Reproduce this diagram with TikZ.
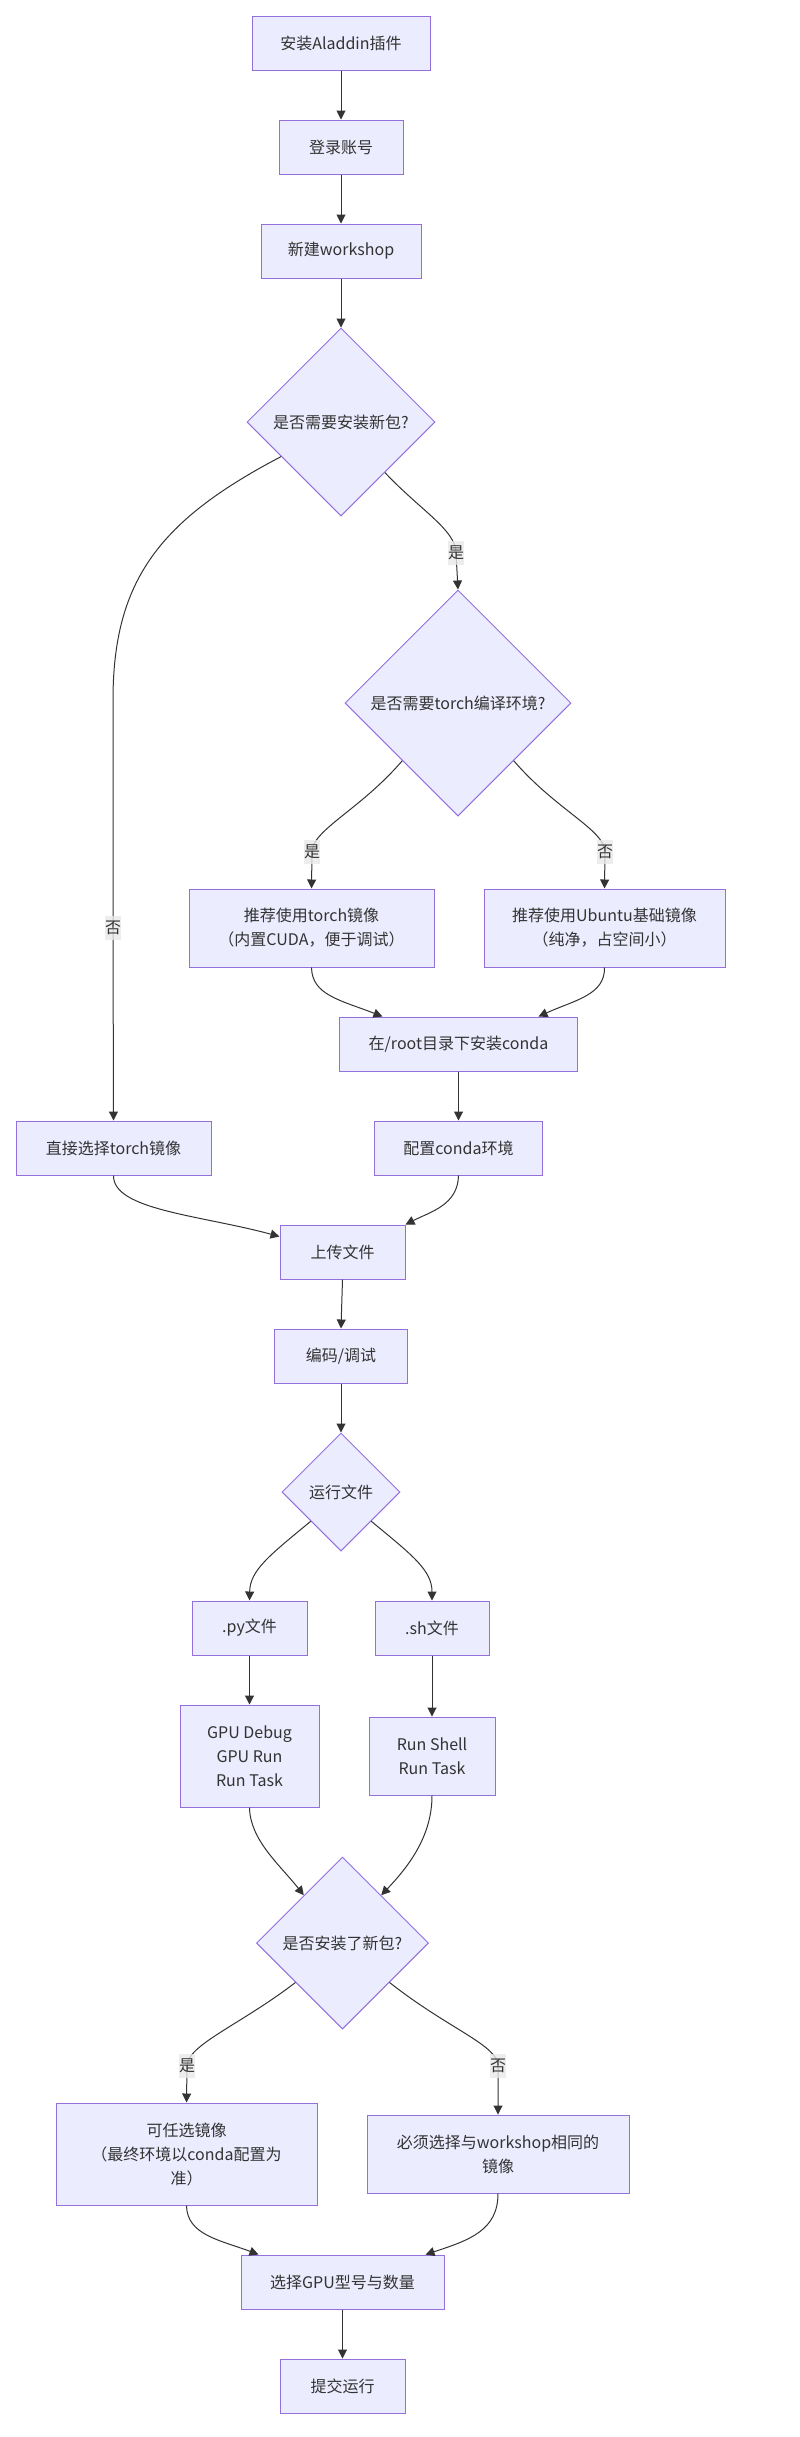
\documentclass[tikz,border=0pt]{standalone}
\usepackage{fontspec}
\setmainfont{Noto Sans CJK SC}
\usetikzlibrary{shapes.geometric,arrows.meta}
\definecolor{nodefill}{HTML}{ECECFF}
\definecolor{nodedraw}{HTML}{9370DB}
\definecolor{linec}{HTML}{333333}
\definecolor{lblfill}{HTML}{E8E8E8}
\begin{document}
\begin{tikzpicture}[x=1pt,y=-1pt,
  txt/.style={text=linec, font=\fontsize{16pt}{24pt}\selectfont},
  box/.style={txt, draw=nodedraw, fill=nodefill, line width=1pt, inner sep=0pt, align=center},
  dec/.style={txt, diamond, aspect=1, draw=nodedraw, fill=nodefill, line width=1pt, inner sep=0pt, align=center},
  conn/.style={draw=linec, line width=1pt, -{Triangle[length=9pt,width=9pt]}},
  lbl/.style={txt, fill=lblfill, fill opacity=0.8, text opacity=1, inner sep=0pt, minimum width=16pt, minimum height=24pt}]
\useasboundingbox (0,0) rectangle (800,2437);

% nodes
\node[box, minimum width=178pt, minimum height=54pt] (A) at (341,43) {安装Aladdin插件};
\node[box, minimum width=124pt, minimum height=54pt] (B) at (341,147) {登录账号};
\node[box, minimum width=160pt, minimum height=54pt] (C) at (341,251) {新建workshop};
\node[dec, minimum size=188pt] (D1) at (341,422) {是否需要安装新包?};
\node[dec, minimum size=226pt] (D2) at (458,703) {是否需要torch编译环境?};
\node[box, minimum width=245pt, minimum height=78pt] (E) at (311.5,928) {推荐使用torch镜像\\（内置CUDA，便于调试）};
\node[box, minimum width=241pt, minimum height=78pt] (F) at (604.5,928) {推荐使用Ubuntu基础镜像\\（纯净，占空间小）};
\node[box, minimum width=238pt, minimum height=54pt] (G) at (458.5,1044) {在/root目录下安装conda};
\node[box, minimum width=195pt, minimum height=54pt] (H) at (113.5,1148) {直接选择torch镜像};
\node[box, minimum width=168pt, minimum height=54pt] (I) at (458.5,1148) {配置conda环境};
\node[box, minimum width=125pt, minimum height=54pt] (J) at (342.5,1252) {上传文件};
\node[box, minimum width=133pt, minimum height=54pt] (K) at (341,1356) {编码/调试};
\node[dec, minimum size=118pt] (D3) at (341,1492) {运行文件};
\node[box, minimum width=115pt, minimum height=54pt] (L) at (249.5,1628) {.py文件};
\node[box, minimum width=114pt, minimum height=54pt] (M) at (432,1628) {.sh文件};
\node[box, minimum width=139pt, minimum height=102pt] (N) at (249.5,1756) {GPU Debug\\GPU Run\\Run Task};
\node[box, minimum width=126pt, minimum height=78pt] (O) at (432,1756) {Run Shell\\Run Task};
\node[dec, minimum size=172pt] (D4) at (342.5,1943) {是否安装了新包?};
\node[box, minimum width=261pt, minimum height=102pt] (P) at (186.5,2154) {可任选镜像\\（最终环境以conda配置为\\准）};
\node[box, minimum width=262pt, minimum height=78pt] (Q) at (498,2154) {必须选择与workshop相同的\\镜像};
\node[box, minimum width=203pt, minimum height=54pt] (R) at (342.5,2282) {选择GPU型号与数量};
\node[box, minimum width=125pt, minimum height=54pt] (S) at (342.5,2386) {提交运行};

% connectors
\draw[conn] (A.south) -- (B.north);
\draw[conn] (B.south) -- (C.north);
\draw[conn] (C.south) -- (D1.north);
\draw[conn] (D1.-49) .. controls (420,510) and (456,530) .. (456,553) node[lbl]{是} -- (D2.north);
\draw[conn] (D1.210) .. controls (160,520) and (113,580) .. (113,700) -- (113,928) node[lbl]{否} -- (H.north);
\draw[conn] (D2.226) .. controls (360,810) and (312,830) .. (312,852) node[lbl]{是} -- (E.north);
\draw[conn] (D2.-46) .. controls (556,810) and (605,830) .. (605,852) node[lbl]{否} -- (F.north);
\draw[conn] (E.south) .. controls (312,995) and (340,1000) .. ([xshift=-76pt]G.north);
\draw[conn] (F.south) .. controls (605,995) and (575,1000) .. ([xshift=80pt]G.north);
\draw[conn] (G.south) -- (I.north);
\draw[conn] (H.south) .. controls (113,1210) and (200,1215) .. ([yshift=-12pt]J.north west);
\draw[conn] (I.south) .. controls (458,1205) and (430,1212) .. (J.north east);
\draw[conn] (J.south) -- (K.north);
\draw[conn] (K.south) -- (D3.north);
\draw[conn] (D3.224) .. controls (270,1555) and (250,1570) .. (L.north);
\draw[conn] (D3.-44) .. controls (412,1555) and (432,1570) .. (M.north);
\draw[conn] (L.south) -- (N.north);
\draw[conn] (M.south) -- (O.north);
\draw[conn] (N.south) .. controls (250,1840) and (280,1865) .. (D4.129);
\draw[conn] (O.south) .. controls (432,1835) and (410,1865) .. (D4.51);
\draw[conn] (D4.220) .. controls (240,2025) and (187,2045) .. (187,2066) node[lbl]{是} -- (P.north);
\draw[conn] (D4.-40) .. controls (450,2030) and (498,2045) .. (498,2066) node[lbl]{否} -- (Q.north);
\draw[conn] (P.south) .. controls (187,2235) and (220,2240) .. ([xshift=-84pt]R.north);
\draw[conn] (Q.south) .. controls (498,2230) and (470,2240) .. ([xshift=83pt]R.north);
\draw[conn] (R.south) -- (S.north);
\end{tikzpicture}
\end{document}
